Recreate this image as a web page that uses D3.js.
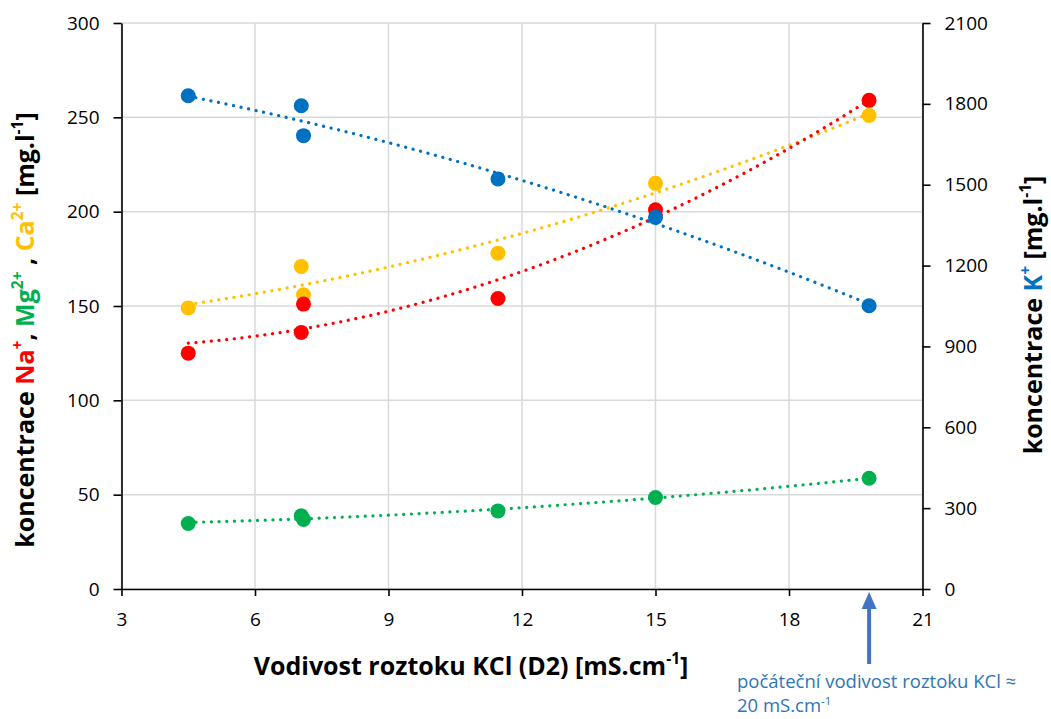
<!DOCTYPE html>
<html>
<head>
<meta charset="utf-8">
<script src="https://cdn.jsdelivr.net/npm/d3@7"></script>
<style>
  html, body { margin: 0; padding: 0; background: #fff; }
  svg { display: block; font-family: "Open Sans", Lato, sans-serif; }
</style>
</head>
<body>
<svg id="chart" width="1051" height="719"></svg>
<script>
// -- Data ----------------------------------------------------------
var xConductivity = [4.5, 7.04, 7.09, 11.46, 15.0, 19.8];
var naValues = [125, 136, 151, 154, 201, 259];
var mgValues = [34.7, 38.8, 36.8, 41.4, 48.5, 58.7];
var caValues = [149, 171, 156, 178, 215, 251];
var kValues  = [1830, 1793, 1682, 1521, 1379, 1051];

var xTicks = [3, 6, 9, 12, 15, 18, 21];
var leftTicks = [0, 50, 100, 150, 200, 250, 300];
var rightTicks = [0, 300, 600, 900, 1200, 1500, 1800, 2100];

var COLORS = { na: "#ff0000", mg: "#00b050", ca: "#ffc000", k: "#0070c0" };

// -- Layout --------------------------------------------------------
var svg = d3.select("#chart");
var plot = { left: 121.5, right: 922.5, top: 23, bottom: 589 };

var x = d3.scaleLinear().domain([3, 21]).range([plot.left, plot.right]);
var yL = d3.scaleLinear().domain([0, 300]).range([plot.bottom, plot.top]);
var yR = d3.scaleLinear().domain([0, 2100]).range([plot.bottom, plot.top]);

// grid
var grid = svg.append("g").attr("stroke", "#d9d9d9").attr("stroke-width", 1.5);
xTicks.forEach(function (t) {
  grid.append("line").attr("x1", x(t)).attr("x2", x(t)).attr("y1", plot.top).attr("y2", plot.bottom);
});
leftTicks.forEach(function (t) {
  grid.append("line").attr("x1", plot.left).attr("x2", plot.right).attr("y1", yL(t)).attr("y2", yL(t));
});

// axes
function styleAxis(g) {
  g.select(".domain").attr("stroke", "#000").attr("stroke-width", 1.6);
  g.selectAll(".tick line").attr("stroke", "#000").attr("stroke-width", 1.6);
  g.selectAll(".tick text").attr("fill", "#000").attr("font-size", "19px")
    .attr("font-family", "'Open Sans', Lato, sans-serif");
}

svg.append("g")
  .attr("transform", "translate(0," + plot.bottom + ")")
  .call(d3.axisBottom(x).tickValues(xTicks).tickSize(7).tickSizeOuter(0).tickPadding(17))
  .call(styleAxis);

svg.append("g")
  .attr("transform", "translate(" + plot.left + ",0)")
  .call(d3.axisLeft(yL).tickValues(leftTicks).tickSize(8).tickSizeOuter(0).tickPadding(14))
  .call(styleAxis);

svg.append("g")
  .attr("transform", "translate(" + plot.right + ",0)")
  .call(d3.axisRight(yR).tickValues(rightTicks).tickFormat(d3.format("d")).tickSize(8).tickSizeOuter(0).tickPadding(14))
  .call(styleAxis);

// -- 2nd order polynomial trendlines (least squares, like Excel) ---
function polyFit2(xs, ys) {
  var s = [0, 0, 0, 0, 0], t = [0, 0, 0];
  xs.forEach(function (xv, i) {
    for (var k = 0; k < 5; k++) s[k] += Math.pow(xv, k);
    for (var j = 0; j < 3; j++) t[j] += ys[i] * Math.pow(xv, j);
  });
  // solve [[s0 s1 s2][s1 s2 s3][s2 s3 s4]] * c = t
  var m = [[s[0], s[1], s[2], t[0]], [s[1], s[2], s[3], t[1]], [s[2], s[3], s[4], t[2]]];
  for (var c = 0; c < 3; c++) {
    for (var r = c + 1; r < 3; r++) {
      var f = m[r][c] / m[c][c];
      for (var k2 = c; k2 < 4; k2++) m[r][k2] -= f * m[c][k2];
    }
  }
  var coef = [0, 0, 0];
  for (var r2 = 2; r2 >= 0; r2--) {
    var sum = m[r2][3];
    for (var k3 = r2 + 1; k3 < 3; k3++) sum -= m[r2][k3] * coef[k3];
    coef[r2] = sum / m[r2][r2];
  }
  return function (v) { return coef[0] + coef[1] * v + coef[2] * v * v; };
}

function drawSeries(values, yScale, color) {
  var f = polyFit2(xConductivity, values);
  var x0 = d3.min(xConductivity), x1 = d3.max(xConductivity);
  var pts = d3.range(0, 61).map(function (i) { var v = x0 + (x1 - x0) * i / 60; return [v, f(v)]; });
  svg.append("path")
    .datum(pts)
    .attr("fill", "none")
    .attr("stroke", color)
    .attr("stroke-width", 3.2)
    .attr("stroke-linecap", "round")
    .attr("stroke-dasharray", "0.1 7.6")
    .attr("d", d3.line().x(function (d) { return x(d[0]); }).y(function (d) { return yScale(d[1]); }));
}

function drawPoints(values, yScale, color) {
  svg.append("g").selectAll("circle")
    .data(values)
    .join("circle")
      .attr("cx", function (d, i) { return x(xConductivity[i]); })
      .attr("cy", function (d) { return yScale(d); })
      .attr("r", 7.5)
      .attr("fill", color);
}

drawSeries(mgValues, yL, COLORS.mg);
drawSeries(caValues, yL, COLORS.ca);
drawSeries(naValues, yL, COLORS.na);
drawSeries(kValues, yR, COLORS.k);
drawPoints(mgValues, yL, COLORS.mg);
drawPoints(caValues, yL, COLORS.ca);
drawPoints(naValues, yL, COLORS.na);
drawPoints(kValues, yR, COLORS.k);

// -- Axis titles ---------------------------------------------------
function addParts(textSel, parts) {
  parts.forEach(function (p) {
    var t = textSel.append("tspan").text(p.t).attr("fill", p.c || "#000");
    if (p.sup) t.attr("baseline-shift", "super").attr("font-size", "0.62em");
  });
}

var xTitle = svg.append("text")
  .attr("x", 471)
  .attr("y", 675)
  .attr("text-anchor", "middle")
  .attr("font-size", "25px").attr("font-weight", "bold");
addParts(xTitle, [{ t: "Vodivost roztoku KCl (D2) [mS.cm" }, { t: "-1", sup: true }, { t: "]" }]);

var leftTitle = svg.append("text")
  .attr("transform", "translate(34,330) rotate(-90)")
  .attr("text-anchor", "middle")
  .attr("font-size", "25px").attr("font-weight", "bold");
addParts(leftTitle, [
  { t: "koncentrace " },
  { t: "Na", c: COLORS.na }, { t: "+", c: COLORS.na, sup: true },
  { t: ", " },
  { t: "Mg", c: COLORS.mg }, { t: "2+", c: COLORS.mg, sup: true },
  { t: " , " },
  { t: "Ca", c: COLORS.ca }, { t: "2+", c: COLORS.ca, sup: true },
  { t: " [mg.l" }, { t: "-1", sup: true }, { t: "]" }
]);

var rightTitle = svg.append("text")
  .attr("transform", "translate(1042,315) rotate(-90)")
  .attr("text-anchor", "middle")
  .attr("font-size", "25px").attr("font-weight", "bold");
addParts(rightTitle, [
  { t: "koncentrace " },
  { t: "K", c: COLORS.k }, { t: "+", c: COLORS.k, sup: true },
  { t: " [mg.l" }, { t: "-1", sup: true }, { t: "]" }
]);

// -- Annotation arrow ----------------------------------------------
var ax = x(19.8);
svg.append("line")
  .attr("x1", ax).attr("x2", ax).attr("y1", 664).attr("y2", 606)
  .attr("stroke", "#4472c4").attr("stroke-width", 4);
svg.append("path")
  .attr("d", "M" + (ax - 7.5) + ",609 L" + ax + ",592 L" + (ax + 7.5) + ",609 Z")
  .attr("fill", "#4472c4");

svg.append("text").attr("font-size", "18.5px").attr("fill", "#2e75b6")
  .attr("x", 737).attr("y", 688).text("počáteční vodivost roztoku KCl ≈");
var l2 = svg.append("text").attr("font-size", "18.5px").attr("fill", "#2e75b6")
  .attr("x", 737).attr("y", 712);
l2.append("tspan").text("20 mS.cm");
l2.append("tspan").attr("baseline-shift", "super").attr("font-size", "0.62em").text("-1");
</script>
</body>
</html>
